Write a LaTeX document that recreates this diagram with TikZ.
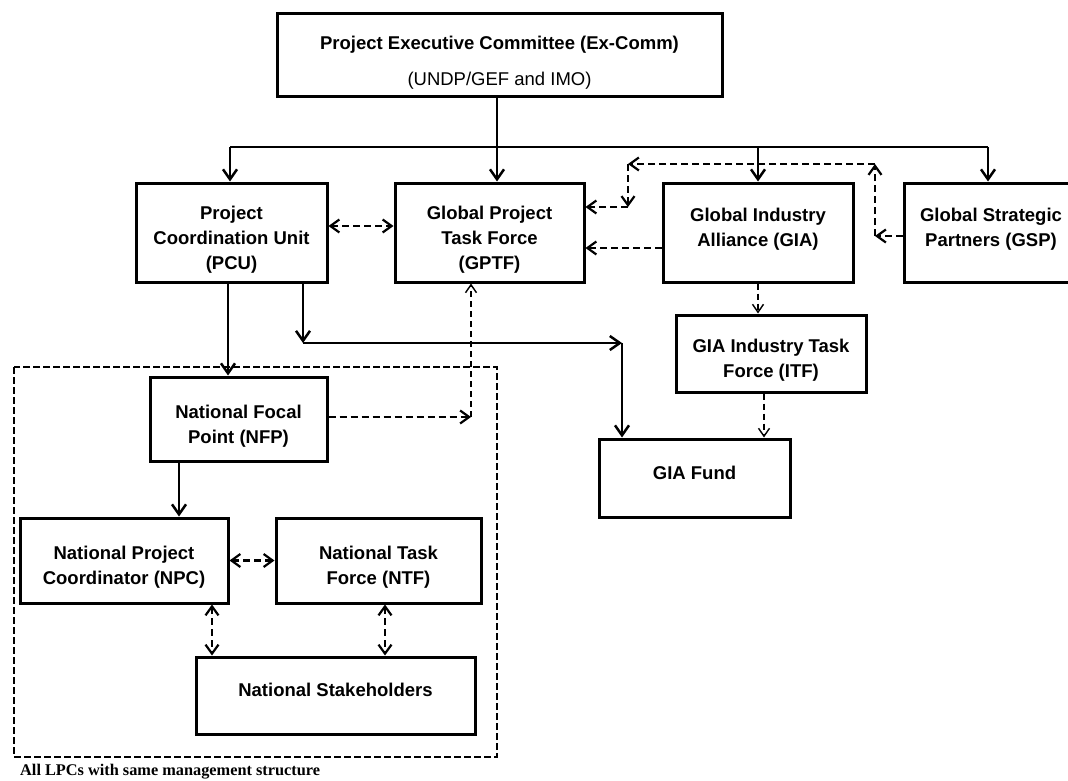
\documentclass[tikz,border=0pt]{standalone}
\usepackage{fontspec}
\setmainfont{Liberation Sans}
\newfontfamily\notefont{Liberation Serif}
\usetikzlibrary{arrows.meta}
\newcommand{\boxstrut}{\rule{0pt}{27.5pt}}

\begin{document}
\begin{tikzpicture}[x=1pt,y=-1pt,line join=miter,>={Straight Barb[length=10pt,width=14pt]},
  box/.style={draw, line width=3pt, align=center, inner sep=0pt, font=\bfseries\fontsize{18.5}{25}\selectfont},
  link/.style={line width=2.5pt},
  dlink/.style={line width=2.2pt, dash pattern=on 7pt off 4pt, >={Straight Barb[length=9pt,width=13pt]}},
  tlink/.style={line width=1.4pt, dash pattern=on 6pt off 4pt, >={Straight Barb[length=8pt,width=11pt]}},
  frame/.style={line width=1.6pt, dash pattern=on 7pt off 3pt}]
    \useasboundingbox (0,0) rectangle (1068,781);

    % boxes
    \node[box, minimum width=445pt, minimum height=83pt] (excomm) at (499.5,55.5) {\boxstrut Project Executive Committee (Ex-Comm)\\[11pt]{\mdseries (UNDP/GEF and IMO)}};
    \node[box, minimum width=191pt, minimum height=99pt] (pcu) at (231.5,232.5) {\boxstrut Project\\Coordination Unit\\(PCU)};
    \node[box, minimum width=189pt, minimum height=99pt] (gptf) at (489.5,232.5) {\boxstrut Global Project\\Task Force\\(GPTF)};
    \node[box, minimum width=190pt, minimum height=99pt] (gia) at (758,232.5) {\boxstrut Global Industry\\Alliance (GIA)\\~};
    \node[box, minimum width=174pt, minimum height=99pt] (gsp) at (991,232.5) {\boxstrut Global Strategic\\Partners (GSP)\\~};
    \node[box, minimum width=190pt, minimum height=77pt] (itf) at (771,353.5) {\boxstrut GIA Industry Task\\Force (ITF)};
    \node[box, minimum width=191pt, minimum height=78pt] (fund) at (694.5,478) {\boxstrut GIA Fund\\~};
    \node[box, minimum width=177pt, minimum height=84pt] (nfp) at (238.5,419) {\boxstrut National Focal\\Point (NFP)};
    \node[box, minimum width=208pt, minimum height=85pt] (npc) at (124,560.5) {\boxstrut National Project\\Coordinator (NPC)};
    \node[box, minimum width=205pt, minimum height=85pt] (ntf) at (378.5,560.5) {\boxstrut National Task\\Force (NTF)};
    \node[box, minimum width=279pt, minimum height=77pt] (stake) at (335.5,695.5) {\boxstrut National Stakeholders\\~};

    % national frame
    \coordinate (lpcnw) at (14,367);
    \coordinate (lpcse) at (497,757);
    \draw[frame] (lpcnw) rectangle (lpcse);
    \node[anchor=west, inner sep=0pt, font=\notefont\bfseries\fontsize{16.3}{18}\selectfont] (lpcnote) at (20,772) {All LPCs with same management structure};

    % corners
    \coordinate (bus) at (497,147);
    \coordinate (split) at (303,343);
    \coordinate (turn) at (622,343);
    \coordinate (ga) at (875,236);
    \coordinate (gb) at (875,164);
    \coordinate (gc) at (628,164);
    \coordinate (gd) at (628,207);
    \coordinate (nfpr) at (471,417);

    % solid lines
    \draw[link] ([xshift=-1.5pt]pcu.north |- bus) -- ([xshift=-3pt]gsp.north |- bus);
    \draw[link,->] (bus |- excomm.south) -- (bus |- gptf.north);
    \draw[link,->] ([xshift=-1.5pt]pcu.north |- bus) -- ([xshift=-1.5pt]pcu.north);
    \draw[link,->] (gia.north |- bus) -- (gia.north);
    \draw[link,->] ([xshift=-3pt]gsp.north |- bus) -- ([xshift=-3pt]gsp.north);
    \draw[link,->] ([xshift=-3.5pt]pcu.south) -- ([xshift=-3.5pt]pcu.south |- nfp.north);
    \draw[link,->] (pcu.south -| split) -- (split);
    \draw[link,->] (split) -- (turn);
    \draw[link,->] (turn) -- (turn |- fund.north);
    \draw[link,->] ([xshift=-59.5pt]nfp.south) -- ([xshift=-59.5pt]nfp.south |- npc.north);

    % dashed lines
    \draw[dlink,<->] ([yshift=6.5pt]pcu.east) -- ([yshift=6.5pt]pcu.east -| gptf.west);
    \draw[dlink,->] ([yshift=-15.5pt]gia.west) -- ([yshift=-15.5pt]gia.west -| gptf.east);
    \draw[dlink,->] (gsp.west |- ga) -- (ga);
    \draw[dlink,->] (ga) -- (gb);
    \draw[dlink,->] (gb) -- (gc);
    \draw[dlink,->] (gc) -- (gd);
    \draw[dlink,->] (gd) -- (gd -| gptf.east);
    \draw[tlink,->] (gia.south) -- (gia.south |- itf.north);
    \draw[tlink,->] ([xshift=-7pt]itf.south) -- ([xshift=-7pt]itf.south |- fund.north);
    \draw[dlink,->] (nfp.east |- nfpr) -- (nfpr);
    \draw[tlink,->] (nfpr) -- (nfpr |- gptf.south);
    \draw[dlink,<->] (npc.east) -- (ntf.west);
    \draw[dlink,<->] ([xshift=88pt]npc.south) -- ([xshift=88pt]npc.south |- stake.north);
    \draw[dlink,<->] ([xshift=6.5pt]ntf.south) -- ([xshift=6.5pt]ntf.south |- stake.north);
\end{tikzpicture}
\end{document}
